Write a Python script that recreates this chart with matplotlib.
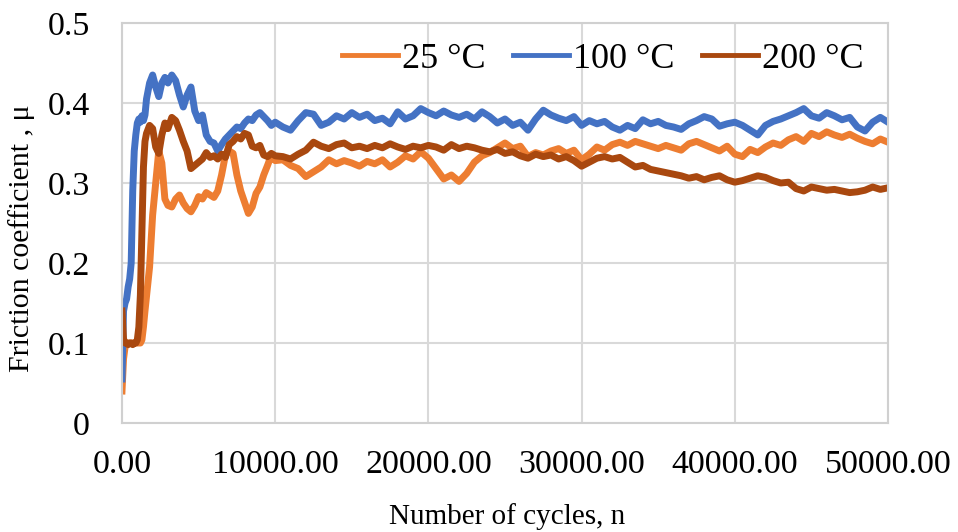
import matplotlib
matplotlib.use("Agg")
import matplotlib.pyplot as plt

# ---------------- data ----------------
cycles = (list(range(0, 1700, 100)) + list(range(1800, 3001, 200))
          + list(range(3250, 10001, 250)) + list(range(10500, 50001, 500)))

mu_25 = [
    # 0 .. 1600
    0.040, 0.080, 0.095, 0.098, 0.100, 0.100, 0.100, 0.100, 0.100, 0.100,
    0.100, 0.100, 0.100, 0.104, 0.120, 0.140, 0.158,
    # 1800 .. 3000
    0.195, 0.260, 0.300, 0.340, 0.325, 0.280, 0.272,
    # 3250 .. 10000
    0.270, 0.280, 0.285, 0.275, 0.268, 0.264, 0.272, 0.283, 0.280, 0.288,
    0.285, 0.282, 0.290, 0.310, 0.335, 0.340, 0.337, 0.310, 0.290, 0.276,
    0.262, 0.270, 0.287, 0.295, 0.310, 0.322, 0.335, 0.328,
    # 10500 .. 50000
    0.329, 0.322, 0.318, 0.308, 0.314, 0.320, 0.329, 0.324, 0.328, 0.325,
    0.321, 0.327, 0.324, 0.329, 0.320, 0.326, 0.334, 0.330, 0.339, 0.331,
    0.318, 0.305, 0.310, 0.302, 0.312, 0.326, 0.334, 0.338, 0.344, 0.350,
    0.343, 0.346, 0.333, 0.338, 0.335, 0.340, 0.343, 0.337, 0.341, 0.329,
    0.336, 0.345, 0.341, 0.348, 0.351, 0.347, 0.352, 0.349, 0.346, 0.343,
    0.347, 0.344, 0.341, 0.349, 0.352, 0.348, 0.344, 0.340, 0.346, 0.336,
    0.333, 0.342, 0.338, 0.345, 0.350, 0.347, 0.354, 0.358, 0.352, 0.362,
    0.358, 0.364, 0.360, 0.357, 0.361, 0.356, 0.352, 0.349, 0.355, 0.351,
]

mu_100 = [
    # 0 .. 1600
    0.055, 0.140, 0.150, 0.155, 0.170, 0.180, 0.200, 0.290, 0.340, 0.360,
    0.375, 0.380, 0.376, 0.384, 0.378, 0.385, 0.405,
    # 1800 .. 3000
    0.425, 0.435, 0.420, 0.408, 0.425, 0.432, 0.425,
    # 3250 .. 10000
    0.435, 0.428, 0.410, 0.395, 0.410, 0.420, 0.390, 0.378, 0.385, 0.360,
    0.352, 0.350, 0.340, 0.348, 0.355, 0.360, 0.365, 0.370, 0.368, 0.375,
    0.380, 0.378, 0.385, 0.388, 0.383, 0.378, 0.372, 0.376,
    # 10500 .. 50000
    0.370, 0.366, 0.378, 0.388, 0.386, 0.372, 0.376, 0.384, 0.380, 0.388,
    0.382, 0.386, 0.378, 0.381, 0.374, 0.389, 0.380, 0.384, 0.393, 0.388,
    0.384, 0.390, 0.385, 0.382, 0.386, 0.380, 0.389, 0.383, 0.375, 0.380,
    0.372, 0.376, 0.366, 0.380, 0.391, 0.385, 0.381, 0.378, 0.383, 0.372,
    0.378, 0.374, 0.377, 0.370, 0.366, 0.372, 0.368, 0.379, 0.374, 0.377,
    0.372, 0.370, 0.367, 0.374, 0.378, 0.383, 0.380, 0.371, 0.374, 0.376,
    0.372, 0.366, 0.360, 0.372, 0.377, 0.380, 0.384, 0.388, 0.393, 0.384,
    0.381, 0.388, 0.384, 0.379, 0.382, 0.370, 0.365, 0.376, 0.382, 0.376,
]

mu_200 = [
    # 0 .. 1600
    0.140, 0.105, 0.100, 0.100, 0.098, 0.100, 0.100, 0.098, 0.100, 0.100,
    0.104, 0.120, 0.160, 0.240, 0.320, 0.352, 0.362,
    # 1800 .. 3000
    0.372, 0.368, 0.345, 0.337, 0.360, 0.375, 0.368,
    # 3250 .. 10000
    0.382, 0.378, 0.366, 0.352, 0.340, 0.318, 0.322, 0.326, 0.330, 0.338,
    0.332, 0.334, 0.330, 0.336, 0.332, 0.348, 0.352, 0.358, 0.355, 0.362,
    0.360, 0.346, 0.344, 0.347, 0.335, 0.333, 0.337, 0.334,
    # 10500 .. 50000
    0.333, 0.330, 0.336, 0.341, 0.351, 0.346, 0.343, 0.348, 0.350, 0.344,
    0.346, 0.343, 0.347, 0.344, 0.349, 0.345, 0.342, 0.346, 0.344, 0.347,
    0.345, 0.341, 0.348, 0.343, 0.346, 0.344, 0.341, 0.339, 0.342, 0.337,
    0.339, 0.334, 0.331, 0.336, 0.333, 0.335, 0.330, 0.333, 0.328, 0.321,
    0.326, 0.331, 0.333, 0.330, 0.332, 0.326, 0.320, 0.322, 0.317, 0.315,
    0.313, 0.311, 0.309, 0.306, 0.308, 0.304, 0.307, 0.309, 0.304, 0.301,
    0.303, 0.306, 0.309, 0.307, 0.303, 0.300, 0.301, 0.293, 0.290, 0.295,
    0.293, 0.291, 0.292, 0.290, 0.288, 0.289, 0.291, 0.295, 0.292, 0.294,
]

series_labels = ["25 °C", "100 °C", "200 °C"]
series_colors = ["#ED7D31", "#4472C4", "#A9480F"]

x_ticks = [0, 10000, 20000, 30000, 40000, 50000]
x_ticklabels = ["0.00", "10000.00", "20000.00", "30000.00", "40000.00", "50000.00"]
y_ticks = [0, 0.1, 0.2, 0.3, 0.4, 0.5]
y_ticklabels = ["0", "0.1", "0.2", "0.3", "0.4", "0.5"]

x_title = "Number of cycles, n"
y_title = "Friction coefficient , μ"

# ---------------- plot ----------------
plt.rcParams["font.family"] = ["Liberation Serif", "DejaVu Serif"]

W, H = 958, 532
fig = plt.figure(figsize=(W / 100, H / 100), dpi=100)
ax = fig.add_axes([122 / W, 1 - 423 / H, (888 - 122) / W, (423 - 23) / H])

for ys, lab, col in zip([mu_25, mu_100, mu_200], series_labels, series_colors):
    ax.plot(cycles, ys, color=col, lw=5, label=lab, solid_joinstyle="round")

ax.set_xlim(0, 50000)
ax.set_ylim(0, 0.5)
ax.set_xticks(x_ticks)
ax.set_xticklabels(x_ticklabels)
ax.set_yticks(y_ticks)
ax.set_yticklabels(y_ticklabels)
ax.tick_params(axis="both", length=0, labelsize=24.5)
ax.tick_params(axis="x", pad=19)
ax.tick_params(axis="y", pad=23)

ax.grid(True, color="#D9D9D9", lw=1.5)
ax.set_axisbelow(True)
for s in ax.spines.values():
    s.set_color("#D0D0D0")
    s.set_linewidth(1.5)

leg = ax.legend(loc="center right", bbox_to_anchor=((864 - 122) / 766, (423 - 59) / 400),
                ncol=3, frameon=False, fontsize=26, handlelength=1.55,
                handletextpad=0.12, columnspacing=0.75, borderaxespad=0, borderpad=0)
for line in leg.get_lines():
    line.set_linewidth(3.5)

fig.text(507 / W, 1 - 517 / H, x_title, ha="center", va="center", fontsize=21)
fig.text(22 / W, 1 - 238 / H, y_title, ha="center", va="center", rotation=90, fontsize=21.5)

fig.savefig("out.png", dpi=100)
